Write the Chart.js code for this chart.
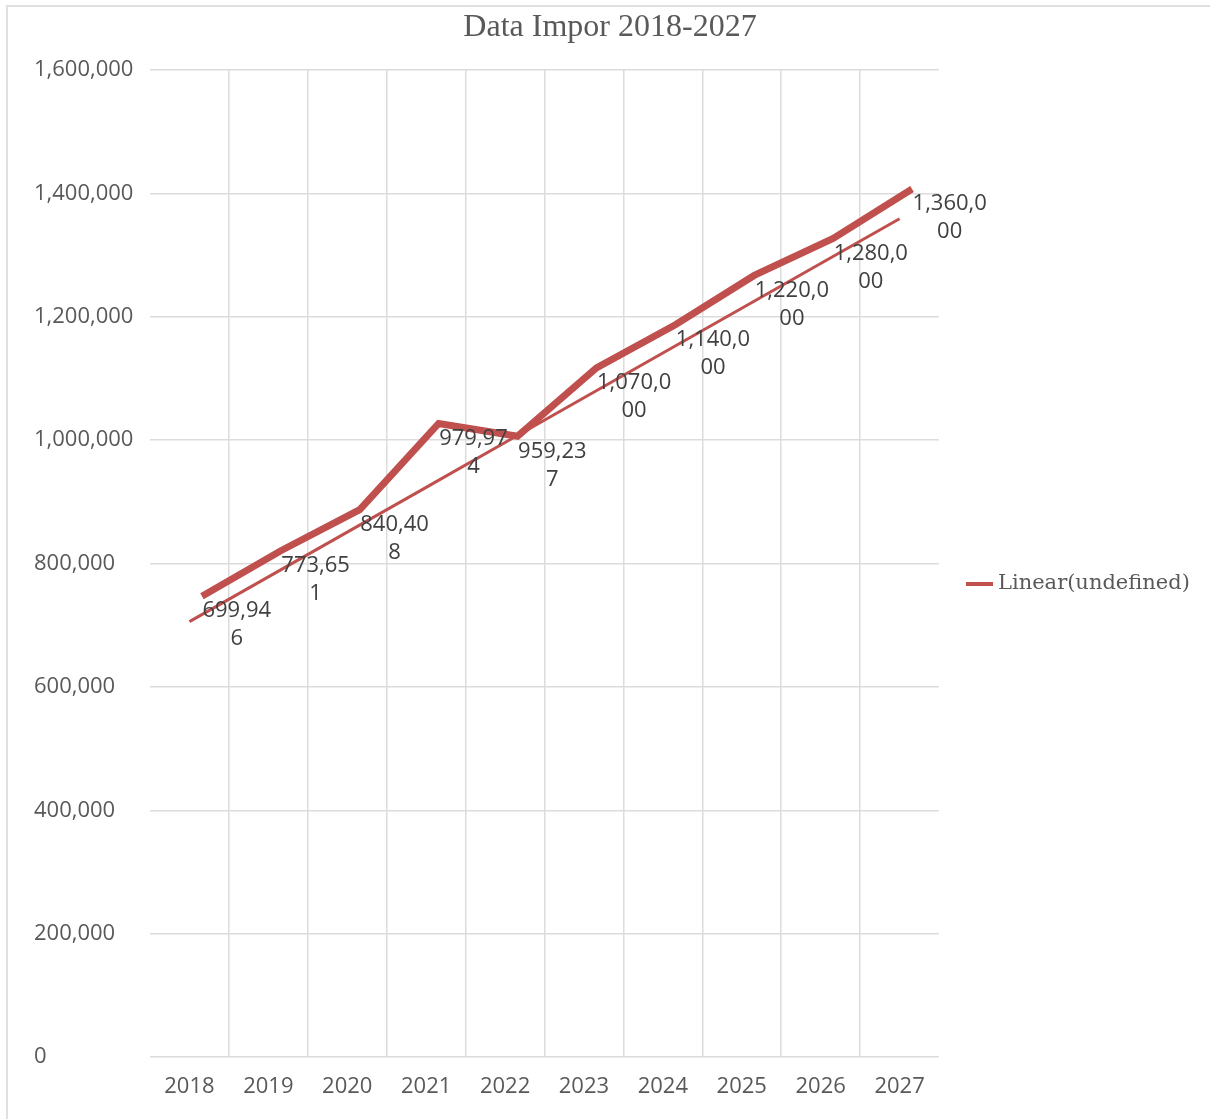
<!DOCTYPE html>
<html>
<head>
<meta charset="utf-8">
<script src="https://cdn.jsdelivr.net/npm/chart.js@4.4.0/dist/chart.umd.min.js"></script>
<style>
  html, body { margin: 0; padding: 0; background: #ffffff; }
  #wrap { width: 1210px; height: 1119px; position: relative; }
</style>
</head>
<body>
<div id="wrap"><canvas id="c" width="1210" height="1119"></canvas></div>
<script>
// ---- data ----
const titleText = 'Data Impor 2018-2027';
const years = ['2018','2019','2020','2021','2022','2023','2024','2025','2026','2027'];
const imporValues = [699946, 773651, 840408, 979974, 959237, 1070000, 1140000, 1220000, 1280000, 1360000];
const trendLabel = 'Linear(undefined)';
const yTicks = [0, 200000, 400000, 600000, 800000, 1000000, 1200000, 1400000, 1600000];

// linear trendline (least squares fit of the series, as the spreadsheet trendline)
function linearFit(vals) {
  const n = vals.length;
  let sx = 0, sy = 0, sxx = 0, sxy = 0;
  vals.forEach((v, i) => { sx += i; sy += v; sxx += i * i; sxy += i * v; });
  const slope = (n * sxy - sx * sy) / (n * sxx - sx * sx);
  const icpt = (sy - slope * sx) / n;
  return vals.map((v, i) => icpt + slope * i);
}
const trendValues = linearFit(imporValues);

const RED = '#c0504d';
const GRID = '#dcdcdc';
const TICK = '#595959';
const fmt = v => Number(v).toLocaleString('en-US');

// draw offset (visual effect of the series line in the reference)
const seriesShift = { dx: 12.5, dy: -29 };

const decorPlugin = {
  id: 'decor',
  beforeDraw(chart) {
    const ctx = chart.ctx;
    ctx.save();
    ctx.fillStyle = '#ffffff';
    ctx.fillRect(0, 0, chart.width, chart.height);
    ctx.strokeStyle = '#e0e0e0';
    ctx.lineWidth = 2;
    ctx.beginPath();
    ctx.moveTo(7, chart.height);
    ctx.lineTo(7, 6);
    ctx.lineTo(chart.width, 6);
    ctx.stroke();
    ctx.restore();
  },
  beforeDatasetDraw(chart, args) {
    if (args.index === 0) {
      chart.ctx.save();
      chart.ctx.translate(seriesShift.dx, seriesShift.dy);
    }
  },
  afterDatasetDraw(chart, args) {
    if (args.index === 0) chart.ctx.restore();
  },
  afterDatasetsDraw(chart) {
    const ctx = chart.ctx;
    const meta = chart.getDatasetMeta(0);
    ctx.save();
    ctx.font = '22px "Open Sans"';
    ctx.fillStyle = '#404040';
    ctx.textAlign = 'center';
    ctx.textBaseline = 'middle';
    const maxW = 78;
    meta.data.forEach((pt, i) => {
      const txt = fmt(imporValues[i]);
      const lines = [];
      let cur = '';
      for (const ch of txt) {
        if (cur && ctx.measureText(cur + ch).width > maxW) { lines.push(cur); cur = ch; }
        else cur += ch;
      }
      if (cur) lines.push(cur);
      const w = Math.max(...lines.map(l => ctx.measureText(l).width));
      const cx = pt.x + 13 + w / 2;
      const lh = 28;
      const y0 = pt.y - (lines.length - 1) * lh / 2;
      lines.forEach((l, k) => ctx.fillText(l, cx, y0 + k * lh));
    });
    ctx.restore();
  },
  afterDraw(chart) {
    const ctx = chart.ctx;
    ctx.save();
    // title
    ctx.font = '32px "Liberation Serif"';
    ctx.fillStyle = TICK;
    ctx.textAlign = 'center';
    ctx.textBaseline = 'middle';
    ctx.fillText(titleText, 610, 28);
    // legend
    const ly = 584;
    ctx.strokeStyle = RED;
    ctx.lineWidth = 4;
    ctx.beginPath();
    ctx.moveTo(966, ly);
    ctx.lineTo(993, ly);
    ctx.stroke();
    ctx.font = '21px "DejaVu Serif"';
    ctx.textAlign = 'left';
    ctx.fillStyle = TICK;
    ctx.fillText(trendLabel, 998, ly);
    ctx.restore();
  }
};

new Chart(document.getElementById('c'), {
  type: 'line',
  data: {
    labels: years,
    datasets: [
      {
        label: 'Impor',
        data: imporValues,
        borderColor: RED,
        backgroundColor: RED,
        borderWidth: 7,
        borderCapStyle: 'butt',
        borderJoinStyle: 'miter',
        pointRadius: 0,
        pointHoverRadius: 0,
        tension: 0,
        clip: false,
        order: 1
      },
      {
        label: trendLabel,
        data: trendValues,
        borderColor: RED,
        backgroundColor: RED,
        borderWidth: 3,
        pointRadius: 0,
        pointHoverRadius: 0,
        tension: 0,
        order: 0
      }
    ]
  },
  options: {
    responsive: false,
    animation: false,
    events: [],
    layout: { padding: { left: 34, top: 70, right: 271, bottom: 0 } },
    plugins: {
      legend: { display: false },
      title: { display: false },
      tooltip: { enabled: false }
    },
    scales: {
      x: {
        type: 'category',
        offset: true,
        border: { display: false },
        grid: {
          offset: true,
          drawTicks: false,
          lineWidth: 1.5,
          color: c => (c.type !== 'tick' || c.index === 0) ? 'rgba(0,0,0,0)' : GRID
        },
        ticks: {
          color: TICK,
          font: { family: 'Open Sans', size: 22 },
          padding: 17,
          maxRotation: 0,
          autoSkip: false
        },
        afterFit: s => { s.height = 62; }
      },
      y: {
        min: 0,
        max: 1600000,
        border: { display: false },
        grid: { drawTicks: false, lineWidth: 1.5, color: GRID },
        afterBuildTicks: s => { s.ticks = yTicks.map(v => ({ value: v })); },
        ticks: {
          color: TICK,
          font: { family: 'Open Sans', size: 22 },
          crossAlign: 'far',
          padding: 0,
          callback: v => fmt(v)
        },
        afterFit: s => { s.width = 116; }
      }
    }
  },
  plugins: [decorPlugin]
});
</script>
</body>
</html>
